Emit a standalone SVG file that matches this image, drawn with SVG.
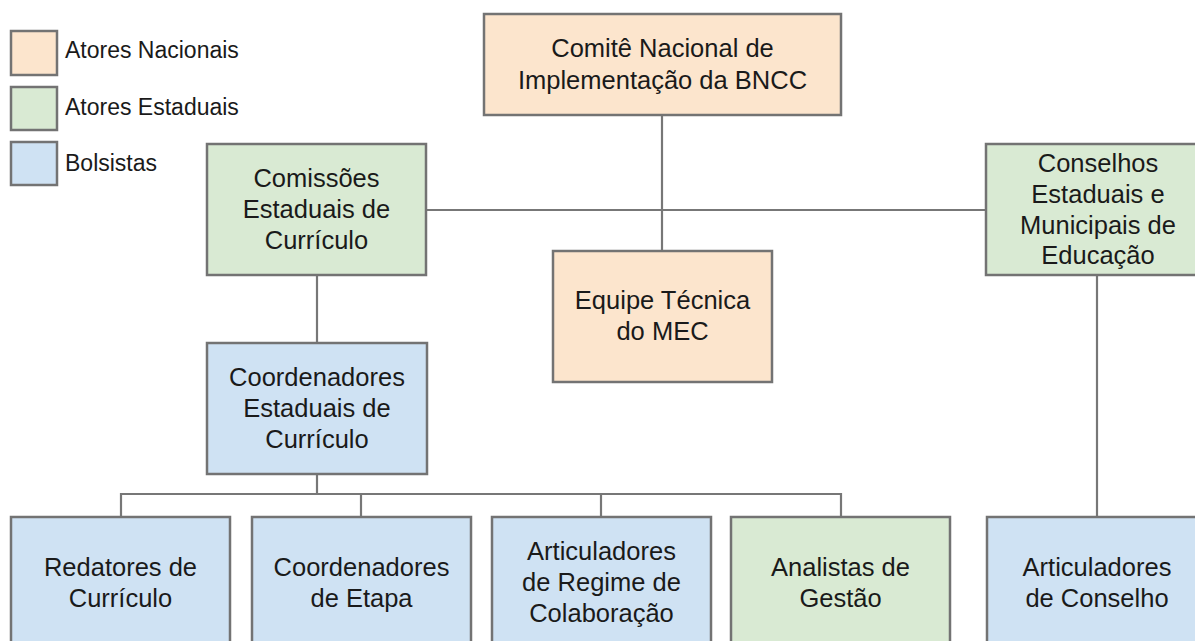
<svg xmlns="http://www.w3.org/2000/svg" width="1195" height="641" viewBox="0 0 1195 641">
<style>
.box{stroke:#737373;stroke-width:2.5}
.nac{fill:#fce5cd}
.est{fill:#d9ead3}
.bol{fill:#cfe2f3}
.t{font-family:"Liberation Sans",Arial,sans-serif;font-size:25.5px;fill:#1a1a1a;text-anchor:middle}
.lg{font-family:"Liberation Sans",Arial,sans-serif;font-size:23px;fill:#1a1a1a}
.c{stroke:#777;stroke-width:2.2;fill:none}
</style>
<rect width="1195" height="641" fill="#fff"/>
<g id="legend">
<rect class="box nac" x="11" y="31" width="46" height="44"/>
<text class="lg" x="65" y="58">Atores Nacionais</text>
<rect class="box est" x="11" y="87" width="46" height="43"/>
<text class="lg" x="65" y="115">Atores Estaduais</text>
<rect class="box bol" x="11" y="142" width="46" height="43"/>
<text class="lg" x="65" y="171">Bolsistas</text>
</g>
<g id="connectors">
<path class="c" d="M662 115V251"/>
<path class="c" d="M426 210H986"/>
<path class="c" d="M317 275V343"/>
<path class="c" d="M317 474V494"/>
<path class="c" d="M121 517V494H841V517"/>
<path class="c" d="M361 494V517"/>
<path class="c" d="M601 494V517"/>
<path class="c" d="M1097 275V517"/>
</g>
<g id="comite">
<rect class="box nac" x="484" y="14" width="357" height="101"/>
<text class="t" x="662.5" y="57">Comitê Nacional de</text>
<text class="t" x="662.5" y="89">Implementação da BNCC</text>
</g>
<g id="comissoes">
<rect class="box est" x="207" y="144" width="219" height="131"/>
<text class="t" x="316.5" y="187">Comissões</text>
<text class="t" x="316.5" y="218">Estaduais de</text>
<text class="t" x="316.5" y="249">Currículo</text>
</g>
<g id="conselhos">
<rect class="box est" x="986" y="144" width="224" height="131"/>
<text class="t" x="1098" y="172">Conselhos</text>
<text class="t" x="1098" y="203">Estaduais e</text>
<text class="t" x="1098" y="234">Municipais de</text>
<text class="t" x="1098" y="264">Educação</text>
</g>
<g id="equipe">
<rect class="box nac" x="553" y="251" width="219" height="131"/>
<text class="t" x="662.5" y="309">Equipe Técnica</text>
<text class="t" x="662.5" y="340">do MEC</text>
</g>
<g id="coordenadores-estaduais">
<rect class="box bol" x="207" y="343" width="220" height="131"/>
<text class="t" x="317" y="386">Coordenadores</text>
<text class="t" x="317" y="417">Estaduais de</text>
<text class="t" x="317" y="448">Currículo</text>
</g>
<g id="redatores">
<rect class="box bol" x="11" y="517" width="219" height="131"/>
<text class="t" x="120.5" y="576">Redatores de</text>
<text class="t" x="120.5" y="607">Currículo</text>
</g>
<g id="coordenadores-etapa">
<rect class="box bol" x="252" y="517" width="219" height="131"/>
<text class="t" x="361.5" y="576">Coordenadores</text>
<text class="t" x="361.5" y="607">de Etapa</text>
</g>
<g id="articuladores-regime">
<rect class="box bol" x="492" y="517" width="219" height="131"/>
<text class="t" x="601.5" y="560">Articuladores</text>
<text class="t" x="601.5" y="591">de Regime de</text>
<text class="t" x="601.5" y="622">Colaboração</text>
</g>
<g id="analistas">
<rect class="box est" x="731" y="517" width="219" height="131"/>
<text class="t" x="840.5" y="576">Analistas de</text>
<text class="t" x="840.5" y="607">Gestão</text>
</g>
<g id="articuladores-conselho">
<rect class="box bol" x="987" y="517" width="220" height="131"/>
<text class="t" x="1097" y="576">Articuladores</text>
<text class="t" x="1097" y="607">de Conselho</text>
</g>
</svg>
